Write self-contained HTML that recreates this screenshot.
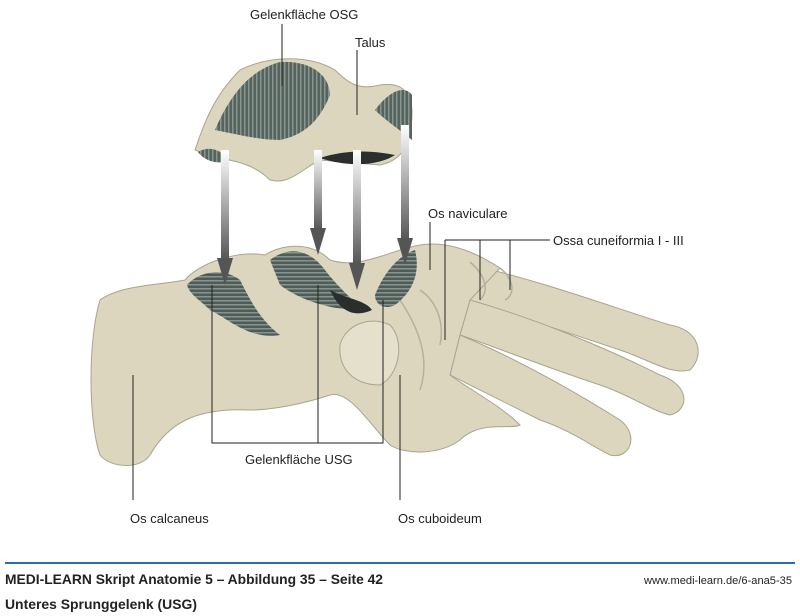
<!DOCTYPE html>
<html><head><meta charset="utf-8"><style>
html,body{margin:0;padding:0;background:#fff;}
svg{display:block;}
text{font-family:"Liberation Sans Narrow","Liberation Sans",sans-serif;fill:#222;}
</style></head><body>
<svg width="800" height="616" viewBox="0 0 800 616" xmlns="http://www.w3.org/2000/svg">
<defs>
<pattern id="st" width="4" height="4" patternUnits="userSpaceOnUse">
<rect width="4" height="4" fill="#56635e"/><rect width="1.5" height="4" fill="#87958f"/></pattern>
<pattern id="sth" width="4" height="4" patternUnits="userSpaceOnUse">
<rect width="4" height="4" fill="#4f5b57"/><rect width="4" height="1.5" fill="#88958f"/></pattern>
<linearGradient id="ar" x1="0" y1="0" x2="0" y2="1"><stop offset="0" stop-color="#fff"/><stop offset="1" stop-color="#555"/></linearGradient>
</defs>
<!-- Talus -->
<path d="M195,150 C205,120 215,95 240,70 C270,55 310,55 335,70 C350,85 360,90 380,85 C400,82 410,90 412,110 C412,140 405,160 380,165 L320,160 C300,170 290,185 270,180 C255,165 235,160 215,158 Z" fill="#dcd6bf" stroke="#a9a48f"/>
<path d="M215,130 C230,95 250,70 280,62 C310,60 330,75 330,95 C320,120 305,135 280,140 C260,140 240,135 215,130 Z" fill="url(#st)"/>
<path d="M198,152 C210,145 220,150 230,160 C220,165 205,162 198,152 Z" fill="url(#st)"/>
<path d="M375,110 C390,90 405,85 412,95 L412,140 C400,130 385,120 375,110 Z" fill="url(#st)"/>
<path d="M320,158 C345,150 370,150 395,155 C380,165 350,168 320,158 Z" fill="#2a2f2d"/>
<!-- metatarsals -->
<g fill="#dcd6bf" stroke="#a9a48f">
<path d="M470,265 C540,280 620,310 670,325 C700,330 705,355 690,370 C670,375 650,360 620,350 C560,330 500,310 465,300 Z"/>
<path d="M470,300 C540,320 610,350 660,375 C690,385 690,410 670,415 C650,410 630,395 600,385 C540,365 490,345 460,335 Z"/>
<path d="M460,335 C520,360 580,395 620,420 C640,435 630,460 610,455 C590,445 570,430 540,420 C500,400 470,385 450,375 Z"/>
</g>
<!-- foot -->
<path d="M100,300 C120,285 160,285 185,280 C200,262 240,250 265,255 C280,245 310,240 330,260 C360,270 390,250 420,245 C450,240 480,255 500,268 L470,300 L460,335 L450,375 C470,390 500,405 520,425 C510,430 480,420 460,440 C440,455 405,455 390,445 C370,425 350,390 330,395 C300,405 270,410 250,410 C200,408 170,420 150,455 C140,470 110,468 100,455 C88,420 88,340 100,300 Z" fill="#dcd6bf" stroke="#a9a48f"/>
<path d="M420,290 C435,300 445,320 440,345 M400,300 C420,330 430,360 420,390 M470,262 C485,275 490,290 480,300 M500,268 C515,280 515,295 505,300" stroke="#b5b09a" fill="none" stroke-width="1.5"/>
<path d="M340,345 C345,325 370,315 390,325 C405,340 400,375 380,385 C355,385 338,370 340,345 Z" fill="#e5e0cb" stroke="#a9a48f"/>
<path d="M187,285 C200,270 225,268 240,280 C250,300 260,320 280,335 C250,340 230,320 210,310 C200,300 190,295 187,285 Z" fill="url(#sth)"/>
<path d="M270,260 C290,245 310,250 325,270 C340,290 355,300 360,310 C330,310 300,300 280,285 Z" fill="url(#sth)"/>
<path d="M375,295 C385,270 400,255 415,250 C420,270 415,290 395,305 C385,310 375,305 375,295 Z" fill="url(#sth)"/>
<path d="M330,290 C350,300 365,300 372,310 C355,318 340,312 330,290 Z" fill="#2a2f2d"/>
<!-- arrows -->
<g stroke="none">
<rect x="221" y="150" width="8" height="110" fill="url(#ar)"/><path d="M217,258 L233,258 L225,285 Z" fill="#555"/>
<rect x="314" y="150" width="8" height="80" fill="url(#ar)"/><path d="M310,228 L326,228 L318,255 Z" fill="#555"/>
<rect x="353" y="150" width="8" height="115" fill="url(#ar)"/><path d="M349,263 L365,263 L357,290 Z" fill="#555"/>
<rect x="401" y="125" width="8" height="115" fill="url(#ar)"/><path d="M397,238 L413,238 L405,265 Z" fill="#555"/>
</g>
<!-- leader lines -->
<g stroke="#222" stroke-width="1" fill="none">
<path d="M282,24 V86"/><path d="M357,50 V115"/><path d="M430,222 V270"/>
<path d="M445,240 H550 M445,240 V340 M480,240 V300 M510,240 V290"/>
<path d="M212,285 V443 H383 V300 M318,285 V443"/>
<path d="M133,375 V500"/><path d="M400,375 V500"/>
</g>
<g font-size="13">
<text x="250" y="19">Gelenkfläche OSG</text>
<text x="355" y="47">Talus</text>
<text x="428" y="218">Os naviculare</text>
<text x="553" y="245">Ossa cuneiformia I - III</text>
<text x="245" y="464">Gelenkfläche USG</text>
<text x="130" y="523">Os calcaneus</text>
<text x="398" y="523">Os cuboideum</text>
</g>
<rect x="5" y="562" width="790" height="2" fill="#2a6db5"/>
<text x="5" y="584" font-size="14" font-weight="bold" textLength="378" lengthAdjust="spacingAndGlyphs">MEDI-LEARN Skript Anatomie 5 – Abbildung 35 – Seite 42</text>
<text x="792" y="584" font-size="11" text-anchor="end" textLength="148" lengthAdjust="spacingAndGlyphs">www.medi-learn.de/6-ana5-35</text>
<text x="5" y="609" font-size="14" font-weight="bold" textLength="192" lengthAdjust="spacingAndGlyphs">Unteres Sprunggelenk (USG)</text>
</svg>
</body></html>
